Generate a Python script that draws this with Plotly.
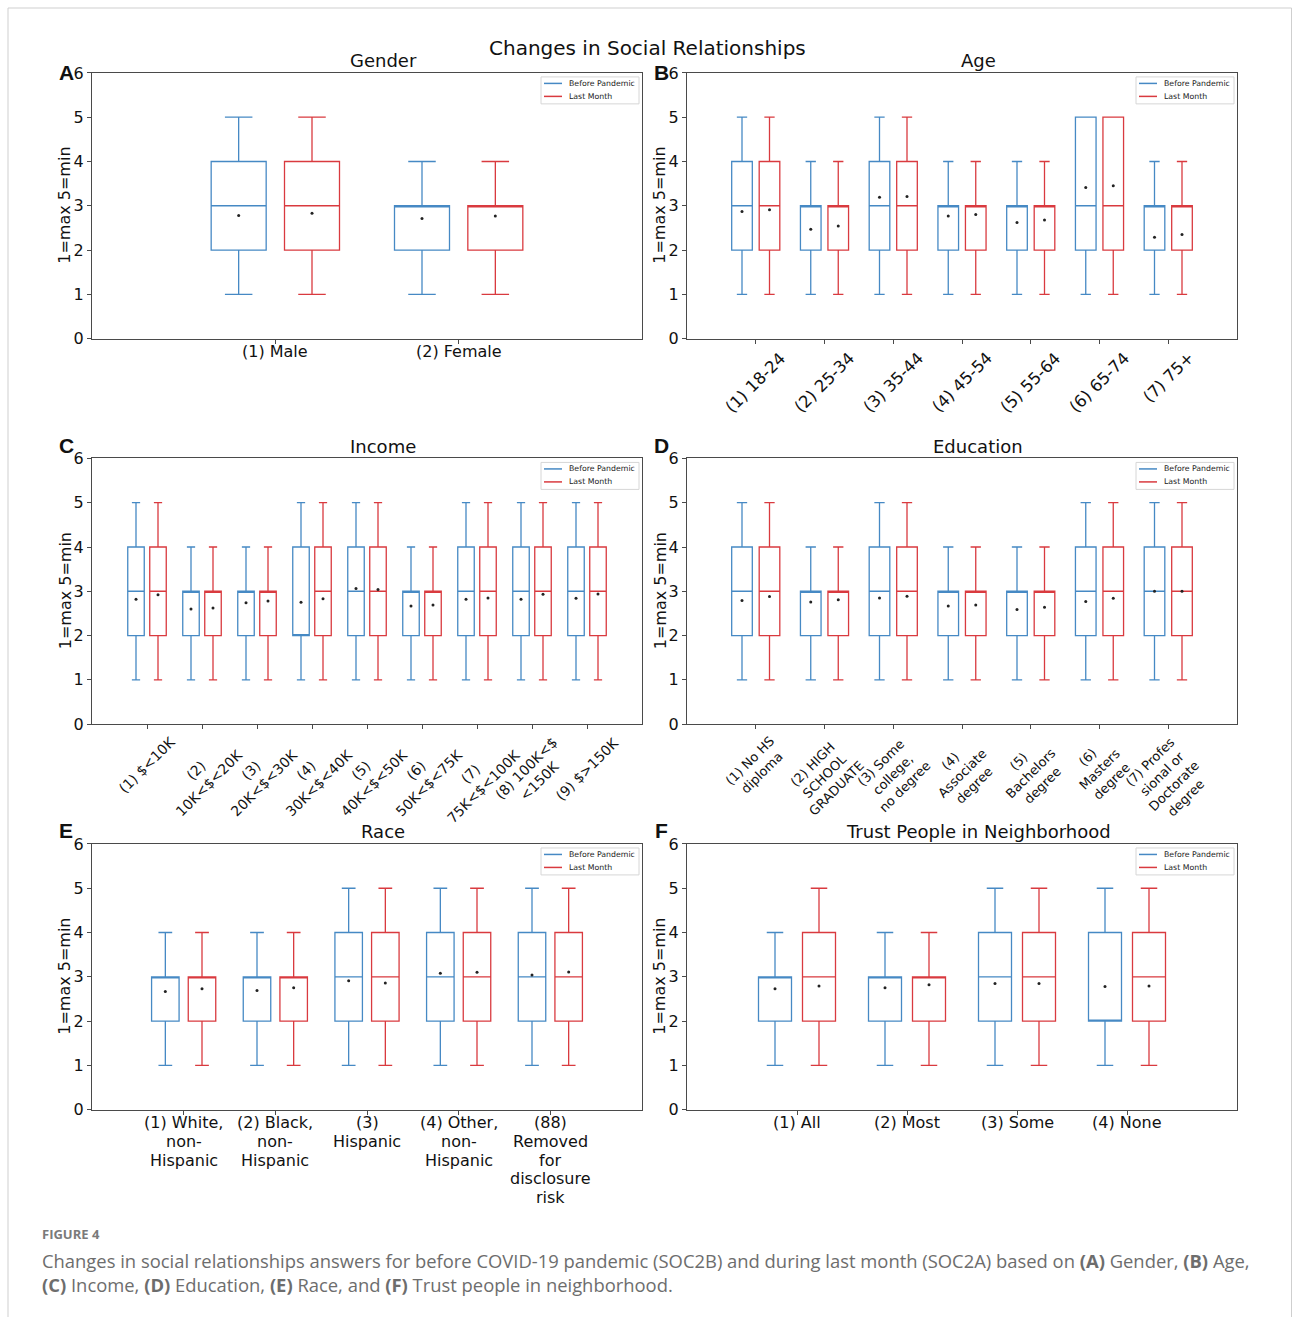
import plotly.graph_objects as go

W, H = 1293, 1317

# ---------------- data ----------------
gender_cats = ["(1) Male", "(2) Female"]
gender_before = dict(lo=[1, 1], q1=[2, 2], med=[3, 3], q3=[4, 3], hi=[5, 4], mean=[2.78, 2.71])
gender_last = dict(lo=[1, 1], q1=[2, 2], med=[3, 3], q3=[4, 3], hi=[5, 4], mean=[2.83, 2.77])

age_cats = ["(1) 18-24", "(2) 25-34", "(3) 35-44", "(4) 45-54", "(5) 55-64", "(6) 65-74", "(7) 75+"]
age_before = dict(lo=[1, 1, 1, 1, 1, 1, 1], q1=[2, 2, 2, 2, 2, 2, 2], med=[3, 3, 3, 3, 3, 3, 3],
                  q3=[4, 3, 4, 3, 3, 5, 3], hi=[5, 4, 5, 4, 4, 5, 4],
                  mean=[2.87, 2.47, 3.19, 2.77, 2.62, 3.41, 2.29])
age_last = dict(lo=[1, 1, 1, 1, 1, 1, 1], q1=[2, 2, 2, 2, 2, 2, 2], med=[3, 3, 3, 3, 3, 3, 3],
                q3=[4, 3, 4, 3, 3, 5, 3], hi=[5, 4, 5, 4, 4, 5, 4],
                mean=[2.91, 2.54, 3.21, 2.80, 2.68, 3.45, 2.35])

income_cats = ["(1) $<10K", "(2)<br>10K<$<20K", "(3)<br>20K<$<30K", "(4)<br>30K<$<40K",
               "(5)<br>40K<$<50K", "(6)<br>50K<$<75K", "(7)<br>75K<$<100K",
               "(8) 100K<$<br><150K", "(9) $>150K"]
income_before = dict(lo=[1] * 9, q1=[2] * 9, med=[3, 3, 3, 2, 3, 3, 3, 3, 3],
                     q3=[4, 3, 3, 4, 4, 3, 4, 4, 4], hi=[5, 4, 4, 5, 5, 4, 5, 5, 5],
                     mean=[2.82, 2.60, 2.74, 2.75, 3.06, 2.67, 2.82, 2.82, 2.84])
income_last = dict(lo=[1] * 9, q1=[2] * 9, med=[3] * 9,
                   q3=[4, 3, 3, 4, 4, 3, 4, 4, 4], hi=[5, 4, 4, 5, 5, 4, 5, 5, 5],
                   mean=[2.92, 2.62, 2.78, 2.83, 3.04, 2.69, 2.85, 2.93, 2.94])

edu_cats = ["(1) No HS<br>diploma", "(2) HIGH<br>SCHOOL<br>GRADUATE", "(3) Some<br>college,<br>no degree",
            "(4)<br>Associate<br>degree", "(5)<br>Bachelors<br>degree", "(6)<br>Masters<br>degree",
            "(7) Profes<br>sional or<br>Doctorate<br>degree"]
edu_before = dict(lo=[1] * 7, q1=[2] * 7, med=[3] * 7, q3=[4, 3, 4, 3, 3, 4, 4], hi=[5, 4, 5, 4, 4, 5, 5],
                  mean=[2.79, 2.76, 2.85, 2.67, 2.59, 2.77, 3.00])
edu_last = dict(lo=[1] * 7, q1=[2] * 7, med=[3] * 7, q3=[4, 3, 4, 3, 3, 4, 4], hi=[5, 4, 5, 4, 4, 5, 5],
                mean=[2.88, 2.81, 2.89, 2.69, 2.64, 2.84, 3.00])

race_cats = ["(1) White,<br>non-<br>Hispanic", "(2) Black,<br>non-<br>Hispanic", "(3)<br>Hispanic",
             "(4) Other,<br>non-<br>Hispanic", "(88)<br>Removed<br>for<br>disclosure<br>risk"]
race_before = dict(lo=[1] * 5, q1=[2] * 5, med=[3] * 5, q3=[3, 3, 4, 4, 4], hi=[4, 4, 5, 5, 5],
                   mean=[2.67, 2.69, 2.91, 3.08, 3.04])
race_last = dict(lo=[1] * 5, q1=[2] * 5, med=[3] * 5, q3=[3, 3, 4, 4, 4], hi=[4, 4, 5, 5, 5],
                 mean=[2.73, 2.75, 2.86, 3.10, 3.11])

trust_cats = ["(1) All", "(2) Most", "(3) Some", "(4) None"]
trust_before = dict(lo=[1] * 4, q1=[2] * 4, med=[3, 3, 3, 2], q3=[3, 3, 4, 4], hi=[4, 4, 5, 5],
                    mean=[2.73, 2.75, 2.85, 2.78])
trust_last = dict(lo=[1] * 4, q1=[2] * 4, med=[3, 3, 3, 3], q3=[4, 3, 4, 4], hi=[5, 4, 5, 5],
                  mean=[2.79, 2.82, 2.85, 2.79])

series_names = ["Before Pandemic", "Last Month"]
yticks = [0, 1, 2, 3, 4, 5, 6]

# ---------------- styling ----------------
BLUE = "#4689c4"
RED = "#d93a3f"
SPINE = "#4a4a4a"
FONT = "DejaVu Sans"

panels = [
    # letter, title, cats, before, last, axes px box (L, T, R, B), rotated label font size
    ("A", "Gender", gender_cats, gender_before, gender_last, (92, 73, 642, 339), None),
    ("B", "Age", age_cats, age_before, age_last, (687, 73, 1237, 339), 16.5),
    ("C", "Income", income_cats, income_before, income_last, (92, 459, 642, 725), 14),
    ("D", "Education", edu_cats, edu_before, edu_last, (687, 459, 1237, 725), 13),
    ("E", "Race", race_cats, race_before, race_last, (92, 845, 642, 1111), None),
    ("F", "Trust People in Neighborhood", trust_cats, trust_before, trust_last, (687, 845, 1237, 1111), None),
]

# the photographed page maps figure y to ~ 9 + 0.9868*y; compensate so positions match
Y_OFF, Y_SCALE = 9.0, 0.9868


def px(x):
    return x / W


def py(y):
    return 1 - ((y - Y_OFF) / Y_SCALE) / H


fig = go.Figure()
annotations = []
shapes = []
layout = {}

for i, (letter, title, cats, before, last, box, rotfont) in enumerate(panels, start=1):
    L, T, R, B = box
    xa = "x" if i == 1 else f"x{i}"
    ya = "y" if i == 1 else f"y{i}"
    n = len(cats)
    pos = list(range(1, n + 1))
    for stats, color, off, name in [(before, BLUE, -0.2, series_names[0]), (last, RED, 0.2, series_names[1])]:
        xs = [p + off for p in pos]
        fig.add_trace(go.Box(
            x=xs, q1=stats["q1"], median=stats["med"], q3=stats["q3"],
            lowerfence=stats["lo"], upperfence=stats["hi"],
            width=0.3, whiskerwidth=0.5, boxpoints=False,
            line=dict(color=color, width=1.3), fillcolor="rgba(0,0,0,0)",
            name=name, showlegend=False, xaxis=xa, yaxis=ya, hoverinfo="skip",
        ))
        fig.add_trace(go.Scatter(
            x=xs, y=stats["mean"], mode="markers",
            marker=dict(color="#222222", size=3), showlegend=False,
            xaxis=xa, yaxis=ya, hoverinfo="skip",
        ))

    xkey = "xaxis" if i == 1 else f"xaxis{i}"
    ykey = "yaxis" if i == 1 else f"yaxis{i}"
    layout[xkey] = dict(
        domain=[px(L), px(R)], anchor=ya, range=[0, n + 1],
        tickvals=pos, ticktext=[""] * n,
        ticks="outside", ticklen=4, tickcolor=SPINE, tickwidth=1,
        showline=True, linecolor=SPINE, linewidth=1, mirror=True,
        showgrid=False, zeroline=False,
        tickfont=dict(family=FONT, size=16, color="#111"),
        fixedrange=True,
    )
    layout[ykey] = dict(
        domain=[py(B), py(T)], anchor=xa, range=[0, 6],
        tickvals=yticks, ticks="outside", ticklen=4, tickcolor=SPINE, tickwidth=1,
        showline=True, linecolor=SPINE, linewidth=1, mirror=True,
        showgrid=False, zeroline=False,
        tickfont=dict(family=FONT, size=16, color="#111"),
        fixedrange=True,
    )

    # category labels
    if rotfont is not None:
        for p, c in zip(pos, cats):
            annotations.append(dict(
                x=p, xref=xa, y=py(B + 7), yref="paper", text=c, showarrow=False,
                textangle=-45, xanchor="center", yanchor="top", align="center",
                font=dict(family=FONT, size=rotfont, color="#111"),
            ))
    else:
        for p, c in zip(pos, cats):
            for k, line in enumerate(c.split("<br>")):
                annotations.append(dict(
                    x=p, xref=xa, y=py(B + 13 + 18.8 * k), yref="paper", text=line, showarrow=False,
                    xanchor="center", yanchor="middle",
                    font=dict(family=FONT, size=16, color="#111"),
                ))

    # subplot title
    annotations.append(dict(
        x=px((L + R) / 2 + 16), y=py(T - 12), xref="paper", yref="paper", text=title,
        showarrow=False, xanchor="center", yanchor="middle",
        font=dict(family=FONT, size=18, color="#111"),
    ))
    # panel letter
    letter_y = T if i <= 2 else T - 13
    annotations.append(dict(
        x=px(L - 26), y=py(letter_y), xref="paper", yref="paper", text=f"<b>{letter}</b>",
        showarrow=False, xanchor="center", yanchor="middle",
        font=dict(family="Liberation Sans", size=21, color="#111"),
    ))
    # y-axis title
    annotations.append(dict(
        x=px(L - 27), y=py((T + B) / 2), xref="paper", yref="paper", text="1=max 5=min",
        showarrow=False, textangle=-90, xanchor="center", yanchor="middle",
        font=dict(family=FONT, size=16, color="#111"),
    ))

    # legend (drawn box)
    lx0, lx1 = R - 101, R - 3
    ly0, ly1 = T + 4, T + 31
    shapes.append(dict(type="rect", xref="paper", yref="paper",
                       x0=px(lx0), x1=px(lx1), y0=py(ly1), y1=py(ly0),
                       line=dict(color="#d6d6d6", width=1), fillcolor="rgba(255,255,255,0.9)"))
    for k, (nm, col) in enumerate(zip(series_names, [BLUE, RED])):
        yy = ly0 + 6.5 + 13 * k
        shapes.append(dict(type="line", xref="paper", yref="paper",
                           x0=px(lx0 + 3), x1=px(lx0 + 21), y0=py(yy), y1=py(yy),
                           line=dict(color=col, width=1.5)))
        annotations.append(dict(
            x=px(lx0 + 26), y=py(yy), xref="paper", yref="paper", text=nm,
            showarrow=False, xanchor="left", yanchor="middle",
            font=dict(family=FONT, size=7.8, color="#222"),
        ))

# main title
annotations.append(dict(
    x=px(647), y=py(48), xref="paper", yref="paper", text="Changes in Social Relationships",
    showarrow=False, xanchor="center", yanchor="middle",
    font=dict(family=FONT, size=20, color="#111"),
))

# caption
annotations.append(dict(
    x=px(40), y=py(1236), xref="paper", yref="paper", text="<b>FIGURE 4</b>",
    showarrow=False, xanchor="left", yanchor="middle",
    font=dict(family="Open Sans", size=13, color="#7a7a7a"),
))
annotations.append(dict(
    x=px(40), y=py(1262), xref="paper", yref="paper",
    text=("Changes in social relationships answers for before COVID-19 pandemic (SOC2B) and during last month "
          "(SOC2A) based on <b>(A)</b> Gender, <b>(B)</b> Age,"),
    showarrow=False, xanchor="left", yanchor="middle",
    font=dict(family="Open Sans", size=18.4, color="#6d6d6d"),
))
annotations.append(dict(
    x=px(40), y=py(1286), xref="paper", yref="paper",
    text=("<b>(C)</b> Income, <b>(D)</b> Education, <b>(E)</b> Race, and <b>(F)</b> Trust people in neighborhood."),
    showarrow=False, xanchor="left", yanchor="middle",
    font=dict(family="Open Sans", size=18.4, color="#6d6d6d"),
))

# outer frame
shapes.append(dict(type="rect", xref="paper", yref="paper",
                   x0=px(8), x1=px(1291.5), y0=py(1340), y1=py(8),
                   line=dict(color="#cfcfcf", width=1), fillcolor="rgba(0,0,0,0)", layer="below"))

fig.update_layout(
    width=W, height=H, margin=dict(l=0, r=0, t=0, b=0),
    paper_bgcolor="white", plot_bgcolor="white",
    boxmode="overlay", showlegend=False,
    annotations=annotations, shapes=shapes,
    font=dict(family=FONT),
    **layout,
)

fig.write_html(
    "out.html",
    config={"displayModeBar": False},
    post_script=("document.body.style.margin='0';document.body.style.padding='0';"
                 "document.body.style.overflow='hidden';"
                 "document.documentElement.style.overflow='hidden';"
                 "var gd=document.getElementById('{plot_id}');"
                 "gd.style.position='fixed';gd.style.top='0px';gd.style.left='0px';"),
)
